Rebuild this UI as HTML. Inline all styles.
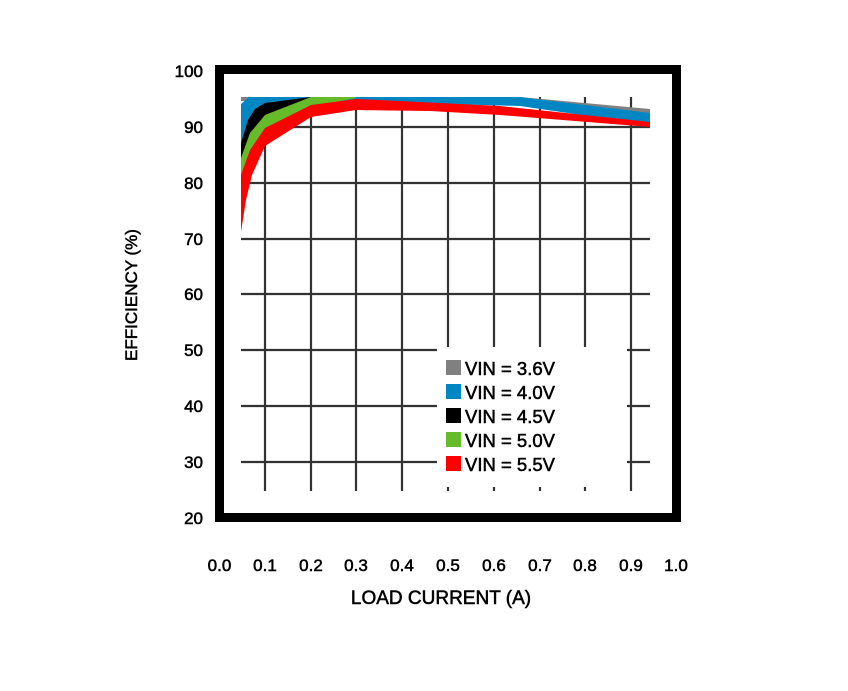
<!DOCTYPE html>
<html><head><meta charset="utf-8"><style>
html,body{margin:0;padding:0;background:#fff;}
svg{display:block;}
text{font-family:"Liberation Sans",Arial,sans-serif;fill:#000;stroke:#000;stroke-width:0.55;}
</style></head><body>
<svg width="848" height="691" viewBox="0 0 848 691" xmlns="http://www.w3.org/2000/svg">
<rect width="848" height="691" fill="#fff"/>
<g stroke="#333" stroke-width="2.2">
<line x1="241" y1="127" x2="650" y2="127"/>
<line x1="241" y1="183" x2="650" y2="183"/>
<line x1="241" y1="239" x2="650" y2="239"/>
<line x1="241" y1="294" x2="650" y2="294"/>
<line x1="241" y1="350" x2="650" y2="350"/>
<line x1="241" y1="406" x2="650" y2="406"/>
<line x1="241" y1="462" x2="650" y2="462"/>
<line x1="265" y1="97" x2="265" y2="491"/>
<line x1="311" y1="97" x2="311" y2="491"/>
<line x1="356" y1="97" x2="356" y2="491"/>
<line x1="402" y1="97" x2="402" y2="491"/>
<line x1="448" y1="97" x2="448" y2="491"/>
<line x1="494" y1="97" x2="494" y2="491"/>
<line x1="540" y1="97" x2="540" y2="491"/>
<line x1="585" y1="97" x2="585" y2="491"/>
<line x1="631" y1="97" x2="631" y2="491"/>
</g>
<rect x="437" y="347" width="190" height="140" fill="#fff"/>
<polygon fill="#808080" points="241,97 520,97 650,109 650,114 520,101 241,101"/>
<polygon fill="#0087c3" points="241,104 249,97 520,97 650,113 650,125 520,106 300,100 241,150"/>
<polygon fill="#000" points="241,143 248,120 255,109 265,103 311,97 320,97 320,99 265,117 241,162"/>
<polygon fill="#66bb2a" points="241,158 250,133 265,115 311,97 356,97 356,98 311,107 265,128 241,180"/>
<polygon fill="#ff0000" points="241,175 250,150 265,128 311,105 356,99 400,101 500,106 650,122 650,127 500,115 430,111 356,110 311,117 265,146 252,175 246,200 241,232"/>
<rect x="219.5" y="69.5" width="457" height="448" fill="none" stroke="#000" stroke-width="9"/>
<rect x="446" y="360" width="15" height="15" fill="#808080"/>
<rect x="446" y="384" width="15" height="15" fill="#0087c3"/>
<rect x="446" y="408" width="15" height="15" fill="#000"/>
<rect x="446" y="432" width="15" height="15" fill="#66bb2a"/>
<rect x="446" y="456" width="15" height="15" fill="#ff0000"/>
<g font-size="18.5">
<text x="465" y="375">VIN = 3.6V</text>
<text x="465" y="399">VIN = 4.0V</text>
<text x="465" y="423">VIN = 4.5V</text>
<text x="465" y="447">VIN = 5.0V</text>
<text x="465" y="471">VIN = 5.5V</text>
</g>
<g font-size="17" text-anchor="end">
<text x="203" y="77">100</text>
<text x="203" y="133">90</text>
<text x="203" y="189">80</text>
<text x="203" y="245">70</text>
<text x="203" y="300">60</text>
<text x="203" y="356">50</text>
<text x="203" y="412">40</text>
<text x="203" y="468">30</text>
<text x="203" y="524">20</text>
</g>
<g font-size="17" text-anchor="middle">
<text x="219.5" y="571">0.0</text>
<text x="265" y="571">0.1</text>
<text x="311" y="571">0.2</text>
<text x="356" y="571">0.3</text>
<text x="402" y="571">0.4</text>
<text x="448" y="571">0.5</text>
<text x="494" y="571">0.6</text>
<text x="540" y="571">0.7</text>
<text x="585" y="571">0.8</text>
<text x="631" y="571">0.9</text>
<text x="676" y="571">1.0</text>
<text x="441" y="604" font-size="19">LOAD CURRENT (A)</text>
<text x="0" y="0" transform="translate(137,295) rotate(-90)">EFFICIENCY (%)</text>
</g>
</svg>
</body></html>
